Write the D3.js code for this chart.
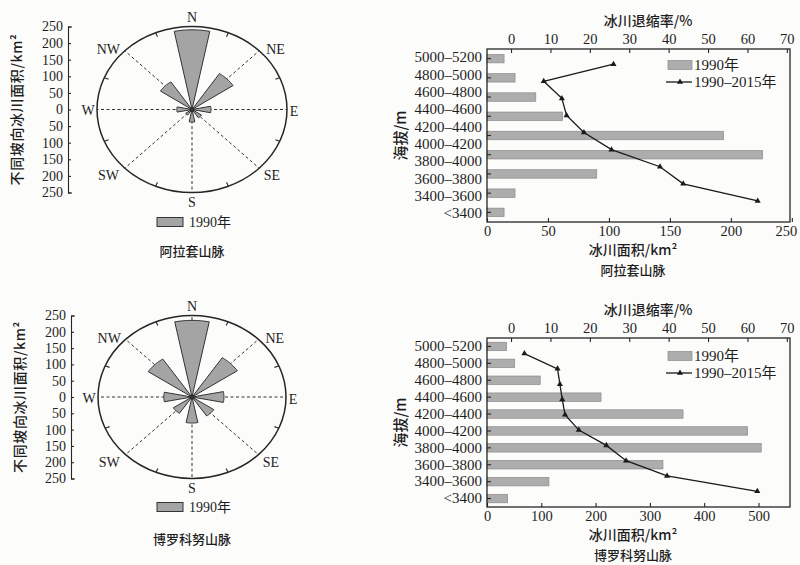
<!DOCTYPE html>
<html>
<head>
<meta charset="utf-8">
<script src="https://cdn.jsdelivr.net/npm/d3@7"></script>
<style>
  body { margin: 0; background: #fcfcfb; }
  svg { display: block; }
  text { font-family: "Liberation Serif", "Times New Roman", "Noto Sans CJK SC", serif; fill: #1e1e1e; }
  .cjk { font-family: "Noto Sans CJK SC", sans-serif; font-weight: 500; }
</style>
</head>
<body>
<svg id="fig" width="800" height="565"></svg>
<script>
// Slope-aspect directions (compass order, clockwise from north)
const directions = ["N", "NE", "E", "SE", "S", "SW", "W", "NW"];
// Glacier area by slope aspect, 1990 (km²)
const alatauAspect = [240, 130, 50, 30, 38, 20, 40, 100];
const borohoroAspect = [235, 145, 85, 70, 80, 60, 75, 140];
// Radial axis ticks (drawn as absolute values above and below the centre)
const aspectTicks = [-250, -200, -150, -100, -50, 0, 50, 100, 150, 200, 250];

// Elevation bands (top to bottom)
const elevationBands = ["5000–5200", "4800–5000", "4600–4800", "4400–4600", "4200–4400",
  "4000–4200", "3800–4000", "3600–3800", "3400–3600", "<3400"];
// Alatau: glacier area in 1990 (km², nine bars) and retreat rate 1990–2015 (%)
const alatauArea1990 = [14, 23, 40, 62, 194, 226, 90, 23, 14];
const alatauRetreat = [26.0, 8.3, 12.9, 14.1, 18.5, 25.5, 37.8, 43.7, 62.6];
// Borohoro: glacier area in 1990 (km²) and retreat rate 1990–2015 (%)
const borohoroArea1990 = [36, 51, 98, 210, 361, 480, 505, 324, 114, 38];
const borohoroRetreat = [3.4, 11.8, 12.4, 13.0, 13.7, 17.2, 24.2, 29.2, 39.6, 62.5];
// Axis ticks
const alatauAreaTicks = [0, 50, 100, 150, 200, 250];
const borohoroAreaTicks = [0, 100, 200, 300, 400, 500];
const retreatTicks = [0, 10, 20, 30, 40, 50, 60, 70];

const svg = d3.select("#fig");
const INK = "#262626";

// ---------- rose diagram of glacier area by aspect ----------
function rosePanel(cfg) {
  const g = svg.append("g");
  const { cx, cy, rx, ry, values } = cfg;
  const radial = d3.scaleLinear().domain([0, 250]).range([0, 1]);
  const bearing = d3.scalePoint().domain(directions).range([0, 315]);
  const pt = (deg, f) => {
    const a = deg * Math.PI / 180;
    return [cx + rx * f * Math.sin(a), cy - ry * f * Math.cos(a)];
  };

  // dashed spokes
  directions.forEach(d => {
    const [x2, y2] = pt(bearing(d), 1);
    g.append("line").attr("x1", cx).attr("y1", cy).attr("x2", x2).attr("y2", y2)
      .attr("stroke", "#333").attr("stroke-width", 1).attr("stroke-dasharray", "3,2.5");
  });

  // outer ellipse with small inward ticks between the main directions
  g.append("ellipse").attr("cx", cx).attr("cy", cy).attr("rx", rx).attr("ry", ry)
    .attr("fill", "none").attr("stroke", INK).attr("stroke-width", 1.5);
  d3.range(8).forEach(k => {
    const deg = 22.5 + 45 * k;
    const [xa, ya] = pt(deg, 1);
    const [xb, yb] = pt(deg, 0.95);
    g.append("line").attr("x1", xa).attr("y1", ya).attr("x2", xb).attr("y2", yb)
      .attr("stroke", INK).attr("stroke-width", 1.1);
  });

  // petals: wedge of ±11.25° per direction
  const half = 11.25;
  directions.forEach((d, i) => {
    const f = radial(values[i]);
    const c = bearing(d);
    const pts = [[cx, cy]];
    for (let t = -half; t <= half + 1e-6; t += half / 8) pts.push(pt(c + t, f));
    g.append("path").attr("d", d3.line()(pts) + "Z")
      .attr("fill", "#a4a4a4").attr("stroke", "#333").attr("stroke-width", 1)
      .attr("stroke-linejoin", "round");
  });
  g.append("circle").attr("cx", cx).attr("cy", cy).attr("r", 2.5).attr("fill", "#333");

  // compass labels
  const labelPos = {
    N: [0, -ry - 9], NE: [rx * 0.88, -ry * 0.72], E: [rx + 7, 2], SE: [rx * 0.84, ry * 0.8],
    S: [0, ry + 10], SW: [-rx * 0.88, ry * 0.8], W: [-rx - 9, 1], NW: [-rx * 0.88, -ry * 0.72]
  };
  directions.forEach(d => {
    g.append("text").attr("x", cx + labelPos[d][0]).attr("y", cy + labelPos[d][1])
      .attr("text-anchor", "middle").attr("dominant-baseline", "central")
      .attr("font-size", 14).text(d);
  });

  // radial value axis
  const yScale = d3.scaleLinear().domain([-250, 250]).range([cy + ry, cy - ry]);
  const ax = g.append("g").attr("transform", `translate(${cfg.axisX},0)`)
    .call(d3.axisLeft(yScale).tickValues(aspectTicks).tickFormat(d => Math.abs(d))
      .tickSize(-3).tickSizeOuter(-4).tickPadding(5));
  ax.selectAll("path,line").attr("stroke", INK).attr("stroke-width", 1.1);
  ax.selectAll("text").attr("font-size", 14).attr("font-family", "Liberation Serif, serif").attr("fill", "#1e1e1e");

  g.append("text").attr("class", "cjk")
    .attr("transform", `translate(${cfg.titleX},${cy}) rotate(-90)`)
    .attr("text-anchor", "middle").attr("dominant-baseline", "central")
    .attr("font-size", 14).attr("letter-spacing", 0.6).text("不同坡向冰川面积/km²");

  // legend + panel title
  g.append("rect").attr("x", cx - 35).attr("y", cfg.legendY - 4.5).attr("width", 26).attr("height", 9)
    .attr("fill", "#a4a4a4").attr("stroke", "#333").attr("stroke-width", 1);
  g.append("text").attr("x", cx - 3).attr("y", cfg.legendY).attr("dominant-baseline", "central")
    .attr("font-size", 14).text("1990年");
  g.append("text").attr("class", "cjk").attr("x", cx).attr("y", cfg.titleY)
    .attr("text-anchor", "middle").attr("dominant-baseline", "central")
    .attr("font-size", 13).text(cfg.title);
}

// ---------- bar + line chart by elevation ----------
function elevationPanel(cfg) {
  const g = svg.append("g");
  const x0 = 487, x1 = 790, { y0, y1 } = cfg;
  const area = d3.scaleLinear().domain([0, cfg.areaMax]).range([x0, x1]);
  const rate = d3.scaleLinear().domain([-6.1, 70.8]).range([x0, x1]);
  const rows = d3.scaleBand().domain(elevationBands).range([y0, y1]);
  const bars = d3.scaleBand().domain(d3.range(cfg.area.length)).range([y0, y1])
    .paddingInner(cfg.barPad).paddingOuter(cfg.barPad / 2);
  const lineBands = elevationBands.slice(0, cfg.rate.length);
  const step = rows.step();
  const pts = d3.scalePoint().domain(lineBands)
    .range([y0 + cfg.lineRange[0] * step, y1 - cfg.lineRange[1] * step]);

  // 1990 area bars
  g.selectAll("rect.bar").data(cfg.area).join("rect").attr("class", "bar")
    .attr("x", area(0)).attr("y", (d, i) => bars(i))
    .attr("width", d => area(d) - area(0)).attr("height", bars.bandwidth())
    .attr("fill", "#adadad").attr("stroke", "#8a8a8a").attr("stroke-width", 0.7);

  // retreat rate line with triangle markers
  const lineData = cfg.rate.map((v, i) => [rate(v), pts(lineBands[i])]);
  g.append("path").attr("d", d3.line()(lineData)).attr("fill", "none")
    .attr("stroke", "#1a1a1a").attr("stroke-width", 1.3);
  g.selectAll("path.mk").data(lineData).join("path").attr("class", "mk")
    .attr("transform", d => `translate(${d[0]},${d[1]})`)
    .attr("d", d3.symbol(d3.symbolTriangle, 16)).attr("fill", "#1a1a1a");

  // frame
  g.append("rect").attr("x", x0).attr("y", y0).attr("width", x1 - x0).attr("height", y1 - y0)
    .attr("fill", "none").attr("stroke", INK).attr("stroke-width", 1.3);

  const style = sel => {
    sel.select(".domain").remove();
    sel.selectAll("line").attr("stroke", INK).attr("stroke-width", 1.1);
    sel.selectAll("text").attr("font-size", 14.5).attr("font-family", "Liberation Serif, serif").attr("fill", "#1e1e1e");
  };
  // top axis: retreat rate
  g.append("g").attr("transform", `translate(0,${y0})`)
    .call(d3.axisTop(rate).tickValues(retreatTicks).tickSize(-4).tickPadding(5)).call(style);
  // bottom axis: area (the last label sits at the right edge, kept inside the page)
  const bottom = g.append("g").attr("transform", `translate(0,${y1})`)
    .call(d3.axisBottom(area).tickValues(cfg.areaTicks).tickSize(-4).tickPadding(4)).call(style);
  bottom.selectAll(".tick text").filter(d => area(d) > 780).attr("text-anchor", "end").attr("dx", 5);
  // left: tick marks at bars, labels at elevation rows
  g.append("g").attr("transform", `translate(${x0},0)`)
    .call(d3.axisLeft(bars).tickSize(-4).tickFormat("")).call(style);
  g.append("g").attr("transform", `translate(${x0},0)`)
    .call(d3.axisLeft(rows).tickSize(0).tickPadding(5)).call(style)
    .selectAll("text").attr("font-size", 15);

  // axis titles
  g.append("text").attr("class", "cjk").attr("x", 648).attr("y", y0 - 29)
    .attr("text-anchor", "middle").attr("dominant-baseline", "central").attr("font-size", 14)
    .text("冰川退缩率/%");
  g.append("text").attr("class", "cjk").attr("x", 633).attr("y", y1 + 27)
    .attr("text-anchor", "middle").attr("dominant-baseline", "central").attr("font-size", 14)
    .text("冰川面积/km²");
  g.append("text").attr("class", "cjk").attr("x", 633).attr("y", y1 + 47)
    .attr("text-anchor", "middle").attr("dominant-baseline", "central").attr("font-size", 13)
    .text(cfg.title);
  g.append("text").attr("class", "cjk")
    .attr("transform", `translate(399,${(y0 + y1) / 2}) rotate(-90)`)
    .attr("text-anchor", "middle").attr("dominant-baseline", "central").attr("font-size", 15)
    .text("海拔/m");

  // legend
  const lx = 668;
  g.append("rect").attr("x", lx).attr("y", y0 + cfg.legendDy - 4.5).attr("width", 24).attr("height", 9)
    .attr("fill", "#adadad").attr("stroke", "#8a8a8a").attr("stroke-width", 0.7);
  g.append("text").attr("x", lx + 26).attr("y", y0 + cfg.legendDy).attr("dominant-baseline", "central")
    .attr("font-size", 15).text("1990年");
  const ly = y0 + cfg.legendDy + 17;
  g.append("line").attr("x1", lx - 2).attr("x2", lx + 24).attr("y1", ly).attr("y2", ly)
    .attr("stroke", "#1a1a1a").attr("stroke-width", 1.3);
  g.append("path").attr("transform", `translate(${lx + 12},${ly})`)
    .attr("d", d3.symbol(d3.symbolTriangle, 16)).attr("fill", "#1a1a1a");
  g.append("text").attr("x", lx + 26).attr("y", ly).attr("dominant-baseline", "central")
    .attr("font-size", 15).text("1990–2015年");
}

rosePanel({ cx: 192, cy: 109.5, rx: 95, ry: 83, values: alatauAspect, axisX: 68, titleX: 16,
  legendY: 222, titleY: 250, title: "阿拉套山脉" });
rosePanel({ cx: 192, cy: 397, rx: 94, ry: 81.5, values: borohoroAspect, axisX: 71, titleX: 19,
  legendY: 507, titleY: 538, title: "博罗科努山脉" });

elevationPanel({ y0: 49, y1: 222, areaMax: 248.5, area: alatauArea1990, rate: alatauRetreat,
  areaTicks: alatauAreaTicks, barPad: 0.56, lineRange: [0.88, 1.22], legendDy: 16, title: "阿拉套山脉" });
elevationPanel({ y0: 338, y1: 507, areaMax: 558, area: borohoroArea1990, rate: borohoroRetreat,
  areaTicks: borohoroAreaTicks, barPad: 0.5, lineRange: [0.92, 0.93], legendDy: 18, title: "博罗科努山脉" });
</script>
</body>
</html>
